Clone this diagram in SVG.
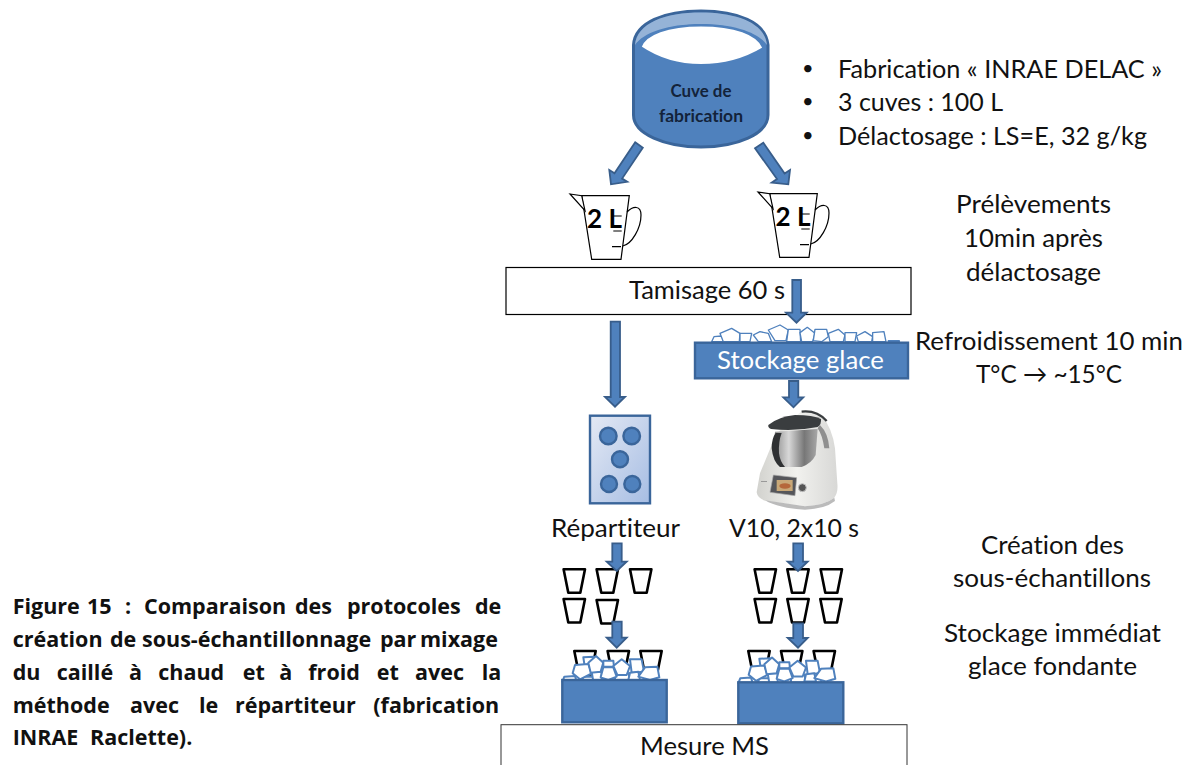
<svg xmlns="http://www.w3.org/2000/svg" xmlns:xlink="http://www.w3.org/1999/xlink" width="1192" height="765" viewBox="0 0 1192 765">
<style>
text{font-family:"Lato","Noto Sans","Liberation Sans",sans-serif;fill:#111;font-variant-ligatures:none}
.t{font-size:25px}
.b{font-size:20px}
.m{text-anchor:middle}
.cap{font-family:"Open Sans","Liberation Sans",sans-serif;font-size:21.500px;font-weight:700;fill:#111}
.cu{font-size:16.500px;font-weight:700;fill:#13233a}
.big{font-size:26px;font-weight:700;fill:#000}
.arrow{fill:#4f81bd;stroke:#385d8a;stroke-width:1.800}
.box{fill:#4f81bd;stroke:#3a659a;stroke-width:2.400}
.ice{fill:#fff;stroke:#4f81bd;stroke-width:6;stroke-linejoin:round}
.ice2{fill:#fff;stroke:#4f81bd;stroke-width:4;stroke-linejoin:round}
.cup{fill:#fff;stroke:#000;stroke-width:2.600;stroke-linejoin:round}
.jug{fill:#fff;stroke:#000;stroke-width:1.200}
.dot{fill:#4f81bd;stroke:#3a659a;stroke-width:2.400}
</style>
<defs>
<linearGradient id="g" x1="0" y1="0" x2="1" y2="1"><stop offset="0" stop-color="#e4e9f4"/><stop offset="1" stop-color="#a6bde3"/></linearGradient>
<linearGradient id="steel" x1="0" x2="1"><stop offset="0" stop-color="#8a8a8a"/><stop offset=".35" stop-color="#d8d8d8"/><stop offset=".7" stop-color="#777"/><stop offset="1" stop-color="#a8a8a8"/></linearGradient>
<linearGradient id="bodyg" x1="0" x2="1"><stop offset="0" stop-color="#d2d2ce"/><stop offset=".5" stop-color="#f1f1ee"/><stop offset="1" stop-color="#d8d8d6"/></linearGradient>
<g id="jug">
<path class="jug" d="M581.700 195.700H629.300L621 259.300H591.700Z"/>
<path class="jug" d="M570 194L581.700 195.700L585 210.700Z"/>
<path class="jug" style="fill:none" d="M627 212C633 206 641 205 641 215C641 228 632 244 622.700 246"/>
<path class="jug" d="M613.300 216H621.700M613.300 231H621.700M612 246.700H621"/>
</g>
<path id="cup" class="cup" d="M-10.700 0H10.700L6 23.500H-6Z"/>
<g id="ices">
<polygon class="ice" points="160,352 192,350 200,380 165,385"/>
<polygon class="ice" points="103,410 135,408 140,425 97,425"/>
<polygon class="ice" points="160,410 192,410 195,425 155,425"/>
<polygon class="ice" points="185,395 215,395 215,425 190,425"/>
<polygon class="ice" points="255,400 297,400 297,425 255,425"/>
<polygon class="ice" points="320,385 350,385 345,425 320,425"/>
<polygon class="ice" points="135,375 175,372 185,400 150,418 128,400"/>
<polygon class="ice" points="175,368 198,348 220,368 212,395 182,398"/>
<polygon class="ice" points="220,362 250,362 252,380 220,380"/>
<polygon class="ice" points="220,382 250,382 260,410 235,420 212,412"/>
<polygon class="ice" points="250,378 275,358 300,378 290,405 262,405"/>
<polygon class="ice" points="300,358 335,358 342,395 305,398"/>
<polygon class="ice" points="300,398 325,395 330,420 295,420"/>
<polygon class="ice" points="345,382 382,380 388,412 360,420 325,410"/>
</g>
</defs>
<rect width="1192" height="765" fill="#fff"/>

<g id="cuve">
<path class="box" style="stroke-width:3" d="M633.500 45C635 22 665 11 701 11C737 11 766 22 768 45V115C768 134 737 147 701 147C665 147 633.500 134 633.500 115Z"/>
<path fill="#95b3d7" d="M635 45C637 23 665 12.500 701 12.500C737 12.500 765 23 767 45C759 33 735 24 701 24C667 24 643 33 635 45Z"/>
<path fill="#fff" stroke="#4f81bd" stroke-width="1.800" d="M640.700 47C645 34 668 25.500 701 25.500C734 25.500 758 34 763.300 48C745 59 725 65 701 65C677 65 657 58 640.700 47Z"/>
<text x="701" y="97" class="cu m" textLength="61" lengthAdjust="spacingAndGlyphs">Cuve de</text>
<text x="701" y="122" class="cu m" textLength="84" lengthAdjust="spacingAndGlyphs">fabrication</text>
</g>
<g id="cuve-notes">
<text x="802" y="75" class="b">•</text><text x="838" y="78" class="t" textLength="324" lengthAdjust="spacingAndGlyphs">Fabrication « INRAE DELAC »</text>
<text x="802" y="108" class="b">•</text><text x="838" y="111" class="t" textLength="165" lengthAdjust="spacingAndGlyphs">3 cuves : 100 L</text>
<text x="802" y="142" class="b">•</text><text x="838" y="145" class="t" textLength="309" lengthAdjust="spacingAndGlyphs">Délactosage : LS=E, 32 g/kg</text>
</g>

<g id="jug-left"><use xlink:href="#jug"/><text x="587" y="228" class="big">2 L</text></g>
<g id="jug-right"><use xlink:href="#jug" transform="translate(188 -2)"/><text x="775.500" y="226" class="big">2 L</text></g>
<g id="prelevements">
<text x="1033.500" y="213" class="t m" textLength="155" lengthAdjust="spacingAndGlyphs">Prélèvements</text>
<text x="1033.500" y="247" class="t m" textLength="139" lengthAdjust="spacingAndGlyphs">10min après</text>
<text x="1033.500" y="281" class="t m" textLength="135" lengthAdjust="spacingAndGlyphs">délactosage</text>
</g>

<g id="tamisage"><rect x="506" y="267.500" width="405" height="47" fill="#fff" stroke="#000" stroke-width="1.200"/>
<text x="707" y="299" class="t m" textLength="156" lengthAdjust="spacingAndGlyphs">Tamisage 60 s</text></g>

<g id="stockage-glace">
<g transform="translate(580 270) scale(.3333)">
<polygon class="ice2" points="395,215 402,200 425,198 432,215"/>
<polygon class="ice2" points="420,190 455,175 480,190 478,215 430,215"/>
<polygon class="ice2" points="480,190 515,190 510,215 480,215"/>
<polygon class="ice2" points="520,195 540,185 565,190 575,215 535,215"/>
<polygon class="ice2" points="565,180 600,165 625,180 618,212 585,212"/>
<polygon class="ice2" points="625,178 660,178 662,215 620,215"/>
<polygon class="ice2" points="660,188 682,172 705,190 698,215 665,215"/>
<polygon class="ice2" points="705,178 740,178 745,200 725,215 700,212"/>
<polygon class="ice2" points="745,190 775,178 795,195 790,215 750,215"/>
<polygon class="ice2" points="795,188 830,188 825,215 795,215"/>
<polygon class="ice2" points="830,198 855,185 878,200 875,215 835,215"/>
<polygon class="ice2" points="878,188 912,185 918,215 878,215"/>
<polygon class="ice2" points="925,212 958,212 958,216 925,216"/>
</g>
<rect class="box" x="695" y="342.700" width="213" height="35.600"/>
<text x="800.500" y="369" class="t m" style="fill:#fff" textLength="167" lengthAdjust="spacingAndGlyphs">Stockage glace</text>
</g>
<g id="refroidissement">
<text x="1049" y="350" class="t m" textLength="268" lengthAdjust="spacingAndGlyphs">Refroidissement 10 min</text>
<text x="1049" y="383" class="t m" textLength="146" lengthAdjust="spacingAndGlyphs">T°C → ~15°C</text>
</g>

<g id="repartiteur">
<rect x="590" y="415.700" width="60" height="87.600" fill="url(#g)" stroke="#3a659a" stroke-width="2.400"/>
<circle class="dot" cx="608.300" cy="436" r="8.300"/>
<circle class="dot" cx="631.700" cy="436" r="8.300"/>
<circle class="dot" cx="620" cy="459.300" r="8"/>
<circle class="dot" cx="609" cy="484" r="8"/>
<circle class="dot" cx="632.300" cy="484" r="8"/>
<text x="615.500" y="537" class="t m" textLength="129" lengthAdjust="spacingAndGlyphs">Répartiteur</text>
</g>

<g id="mixeur">
<g transform="translate(745 405) scale(.3333)">
<path fill="url(#bodyg)" d="M80 120L45 205L35 262Q38 282 65 288L180 304Q240 300 268 278Q280 262 277 235L270 130Q262 70 228 28Q200 12 170 18L90 90Z"/>
<path fill="#bbb" d="M60 286L180 304Q240 300 268 278L270 288Q240 312 180 314Q100 310 60 286Z"/>
<path fill="#8f8f8f" d="M225 60Q250 85 253 130L238 130Q232 90 218 70Z"/>
<path fill="url(#steel)" d="M90 80L218 72L212 150Q200 175 170 186L105 186Q90 170 85 130Z"/>
<path fill="#2f3133" d="M92 84L110 84Q100 110 102 145Q105 170 120 186L105 186Q84 170 80 130Q80 100 92 84Z"/>
<path fill="#3a3d3f" d="M70 60Q100 35 150 30Q205 30 228 42Q230 58 218 66Q150 80 78 72Q68 68 70 60Z"/>
<path fill="none" stroke="#3a3d3f" stroke-width="7" d="M170 20Q215 15 245 48"/>
<path fill="#55565a" stroke="#aaa" stroke-width="2" d="M85 210L155 218L150 272L75 262Z"/>
<rect x="95" y="225" width="48" height="33" fill="#c8a878"/>
<ellipse cx="120" cy="243" rx="17" ry="8" fill="#b5673a"/>
<circle cx="172" cy="248" r="12" fill="#555" stroke="#c5c5c5" stroke-width="3"/>
<rect x="48" y="228" width="18" height="3" fill="#999"/>
</g>
<text x="794" y="537" class="t m" textLength="130" lengthAdjust="spacingAndGlyphs">V10, 2x10 s</text>
</g>

<g id="cups-left">
<use xlink:href="#cup" x="574.300" y="569.300"/><use xlink:href="#cup" x="607.300" y="569.300"/><use xlink:href="#cup" x="640.700" y="569.300"/>
<use xlink:href="#cup" x="574.300" y="599"/><use xlink:href="#cup" x="607.300" y="600"/>
</g>
<g id="cups-right">
<use xlink:href="#cup" x="765.300" y="569.300"/><use xlink:href="#cup" x="798" y="569.300"/><use xlink:href="#cup" x="831.300" y="569.300"/>
<use xlink:href="#cup" x="765.300" y="599"/><use xlink:href="#cup" x="798" y="599"/><use xlink:href="#cup" x="831" y="599"/>
</g>
<g id="creation">
<text x="1052.500" y="554" class="t m" textLength="143" lengthAdjust="spacingAndGlyphs">Création des</text>
<text x="1052" y="587" class="t m" textLength="198" lengthAdjust="spacingAndGlyphs">sous-échantillons</text>
<text x="1052.500" y="642" class="t m" textLength="217" lengthAdjust="spacingAndGlyphs">Stockage immédiat</text>
<text x="1052.500" y="675" class="t m" textLength="169" lengthAdjust="spacingAndGlyphs">glace fondante</text>
</g>

<g id="bac-left">
<use xlink:href="#cup" x="585" y="651"/><use xlink:href="#cup" x="618.300" y="651"/><use xlink:href="#cup" x="651" y="651"/>
<use xlink:href="#ices" transform="translate(530 540) scale(.3333)"/>
<rect class="box" x="562.300" y="680" width="104.400" height="42.300"/>
</g>
<g id="bac-right">
<use xlink:href="#cup" x="759" y="651"/><use xlink:href="#cup" x="791.700" y="651"/><use xlink:href="#cup" x="824.300" y="651"/>
<use xlink:href="#ices" transform="translate(706 541.500) scale(.3333)"/>
<rect class="box" x="738.300" y="682.300" width="105" height="41"/>
</g>

<g id="mesure-ms"><rect x="501" y="724.700" width="406" height="60" fill="#fff" stroke="#333" stroke-width="1"/>
<text x="704.500" y="755" class="t m" textLength="129" lengthAdjust="spacingAndGlyphs">Mesure MS</text></g>

<g id="connectors">
<path class="arrow" d="M635.200 142.300L642.800 147.700L622.100 178.600L627.300 181.800L611 184.300L609.300 170L614.500 173.200Z"/>
<path class="arrow" d="M755 148.300L763.300 142.700L784.600 173.600L790 170L788.300 184.300L771.700 182.700L777 179Z"/>
<path class="arrow" d="M792.300 280H801V312.700H806.700L796.500 322.700L786 312.700H792.300Z"/>
<path class="arrow" d="M610.700 321.700H620V397H625L615 406.700L605 397H610.700Z"/>
<path class="arrow" d="M789 381H798.300V397.300H803.300L793.500 407.300L783.300 397.300H789Z"/>
<path class="arrow" d="M612.300 543.300H621.700V561.700H626.700L616.700 571L606.700 561.700H612.300Z"/>
<path class="arrow" d="M612.300 621.700H621.700V637.700H626.700L616.700 647.700L606.700 637.700H612.300Z"/>
<path class="arrow" d="M793.300 543.300H803V561.700H807.700L798 571L787.700 561.700H793.300Z"/>
<path class="arrow" d="M793.300 623.300H803V638H807.700L798 647.700L787.700 638H793.300Z"/>
</g>

<g id="caption">
<text y="614" class="cap"><tspan x="12.700">Figure </tspan><tspan x="87">15 </tspan><tspan x="125">: </tspan><tspan x="144">Comparaison </tspan><tspan x="295">des </tspan><tspan x="347">protocoles </tspan><tspan x="475">de</tspan></text>
<text y="647" class="cap"><tspan x="12.700">création </tspan><tspan x="110">de </tspan><tspan x="142">sous-échantillonnage </tspan><tspan x="380">par </tspan><tspan x="420">mixage</tspan></text>
<text y="680" class="cap"><tspan x="12.700">du </tspan><tspan x="56.700">caillé </tspan><tspan x="129">à </tspan><tspan x="158.300">chaud </tspan><tspan x="242.700">et </tspan><tspan x="279.300">à </tspan><tspan x="308.300">froid </tspan><tspan x="376.700">et </tspan><tspan x="415">avec </tspan><tspan x="481.700">la</tspan></text>
<text y="713" class="cap"><tspan x="12.700">méthode </tspan><tspan x="130">avec </tspan><tspan x="199">le </tspan><tspan x="235">répartiteur </tspan><tspan x="373.300">(fabrication</tspan></text>
<text y="745" class="cap"><tspan x="12.700">INRAE </tspan><tspan x="90">Raclette).</tspan></text>
</g>
</svg>
